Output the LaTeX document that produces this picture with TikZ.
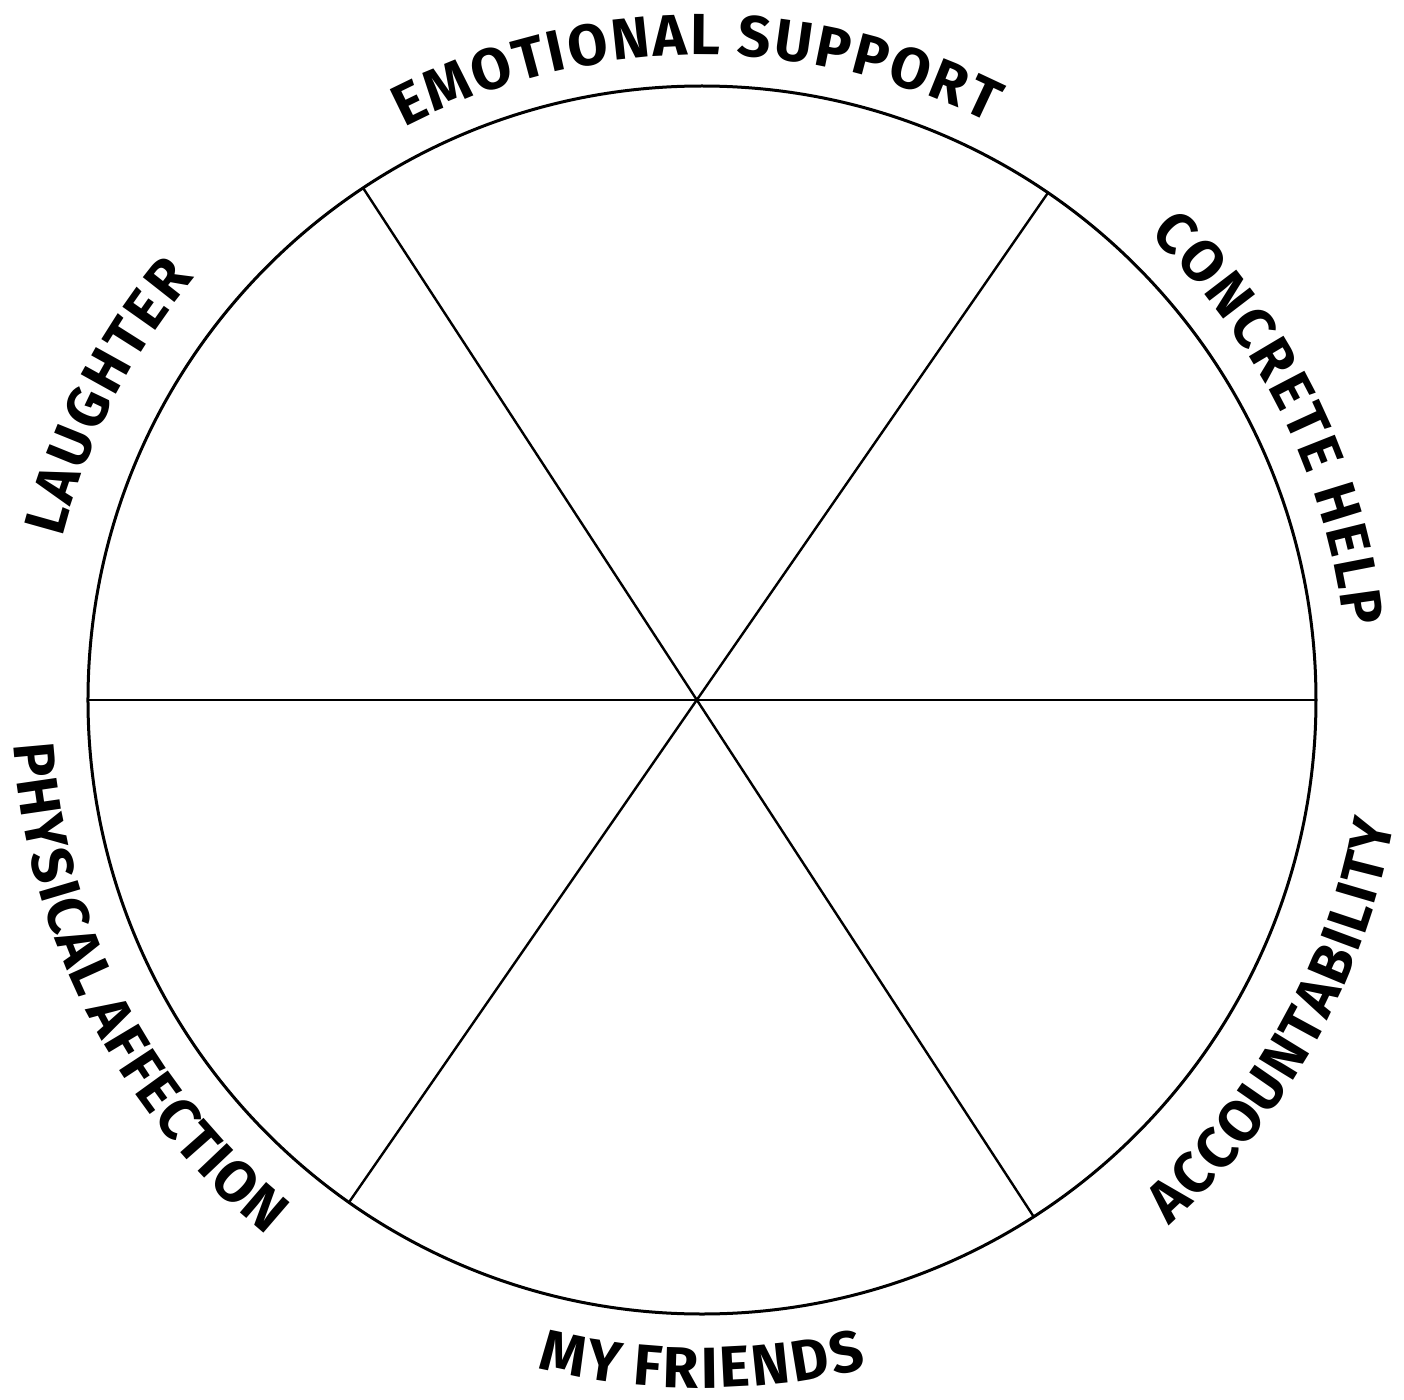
\documentclass[tikz,border=0pt]{standalone}
\usepackage{fontspec}
\setmainfont{Fira Sans}
\usetikzlibrary{decorations.text}
\newcommand\wheellabelfont{\fontsize{29}{30}\selectfont\bfseries}
\tikzset{
  rim/.style={line width=1.5pt},
  spoke/.style={line width=1.2pt},
  curvedlabel/.style={decorate, decoration={text along path, text align=center,
      text={|\wheellabelfont|#1}}}
}
\begin{document}
\begin{tikzpicture}[x=0.5pt,y=0.5pt]
  \useasboundingbox (-702,-699) rectangle (702,700);
  \coordinate (O) at (0,0);
  % spoke end points on the rim
  \coordinate (s1a) at (123.5:614);
  \coordinate (s1b) at (-57.3:614);
  \coordinate (s2a) at (55.7:614);
  \coordinate (s2b) at (234.9:614);
  \coordinate (s3a) at (180:614);
  \coordinate (s3b) at (0:614);
  \draw[rim] (O) circle[radius=614];
  \draw[spoke] (s1a) -- (s1b);
  \draw[spoke] (s2a) -- (s2b);
  \draw[spoke] (s3a) -- (s3b);
  % labels, upper half (clockwise, baseline inside)
  \path[curvedlabel={{E\kern1.3pt}{M\kern1.3pt}{O\kern1.3pt}{T\kern1.3pt}{I\kern1.3pt}{O\kern1.3pt}{N\kern1.3pt}{A\kern1.3pt}{L\kern1.3pt} {S\kern1.3pt}{U\kern1.3pt}{P\kern1.3pt}{P\kern1.3pt}{O\kern1.3pt}{R\kern1.3pt}T}]
    (140.5:645) arc[start angle=140.5, end angle=40.5, radius=645];
  \path[curvedlabel={{C\kern1.2pt}{O\kern1.2pt}{N\kern1.2pt}{C\kern1.2pt}{R\kern1.2pt}{E\kern1.2pt}{T\kern1.2pt}{E\kern1.2pt} {H\kern1.2pt}{E\kern1.2pt}{L\kern1.2pt}P}]
    (76.3:646) arc[start angle=76.3, end angle=-23.7, radius=646];
  \path[curvedlabel={{L\kern1.3pt}{A\kern1.3pt}{U\kern1.3pt}{G\kern1.3pt}{H\kern1.3pt}{T\kern1.3pt}{E\kern1.3pt}R}]
    (203:660) arc[start angle=203, end angle=103, radius=660];
  % labels, lower half (counter-clockwise, baseline outside)
  \path[curvedlabel={{A\kern0.8pt}{C\kern0.8pt}{C\kern0.8pt}{O\kern0.8pt}{U\kern0.8pt}{N\kern0.8pt}{T\kern0.8pt}{A\kern0.8pt}{B\kern0.8pt}{I\kern0.8pt}{L\kern0.8pt}{I\kern0.8pt}{T\kern0.8pt}Y}]
    (-79.2:703) arc[start angle=-79.2, end angle=20.8, radius=703];
  \path[curvedlabel={{M\kern1.3pt}Y {F\kern1.3pt}{R\kern1.3pt}{I\kern1.3pt}{E\kern1.3pt}{N\kern1.3pt}{D\kern1.3pt}S}]
    (220:688) arc[start angle=220, end angle=320, radius=688];
  \path[curvedlabel={{P\kern0.6pt}{H\kern0.6pt}{Y\kern0.6pt}{S\kern0.6pt}{I\kern0.6pt}{C\kern0.6pt}{A\kern0.6pt}L {A\kern0.6pt}{F\kern0.6pt}{F\kern0.6pt}{E\kern0.6pt}{C\kern0.6pt}{T\kern0.6pt}{I\kern0.6pt}{O\kern0.6pt}N}]
    (157.3:690) arc[start angle=157.3, end angle=257.3, radius=690];
\end{tikzpicture}
\end{document}
